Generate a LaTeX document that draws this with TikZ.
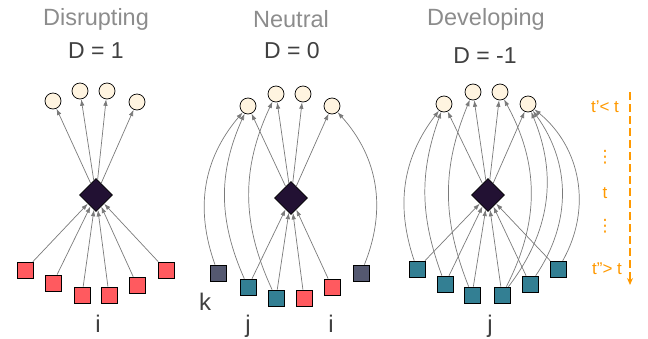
\documentclass[tikz,border=0pt]{standalone}
\usepackage{fontspec}
\setmainfont{Liberation Sans}
\newfontfamily\symfont{DejaVu Sans}
\usetikzlibrary{shapes.geometric, arrows.meta, positioning}

\definecolor{reffill}{HTML}{FFF4E0}
\definecolor{focalfill}{HTML}{221133}
\definecolor{redfill}{HTML}{FF5A5F}
\definecolor{tealfill}{HTML}{337F93}
\definecolor{slatefill}{HTML}{545870}
\definecolor{edgegray}{HTML}{7A7A7A}
\definecolor{titlegray}{HTML}{8C8C8C}
\definecolor{valgray}{HTML}{404040}
\definecolor{timeorange}{HTML}{FF9900}

\begin{document}
\begin{tikzpicture}[
    x=1pt, y=1pt,
    refnode/.style={circle, draw=black, line width=0.7pt, fill=reffill, minimum size=16pt, inner sep=0pt},
    focal/.style={diamond, draw=black, line width=0.7pt, fill=focalfill, minimum width=33pt, minimum height=33pt, inner sep=0pt},
    citbox/.style={rectangle, draw=black, line width=0.7pt, minimum size=16pt, inner sep=0pt},
    redbox/.style={citbox, fill=redfill},
    tealbox/.style={citbox, fill=tealfill},
    slatebox/.style={citbox, fill=slatefill},
    arrow/.style={-{Latex[length=6.5pt, width=4.5pt]}, line width=0.7pt, draw=edgegray},
    title/.style={font=\fontsize{23.5}{25}\selectfont, text=titlegray},
    value/.style={font=\fontsize{23}{25}\selectfont, text=valgray},
    letter/.style={font=\fontsize{24}{26}\selectfont, text=valgray, anchor=base},
    timelabel/.style={font=\fontsize{17}{19}\selectfont, text=timeorange}
]
\useasboundingbox (0,-338) rectangle (648,0);

% Disrupting
\node[title] (titA) at (96,-19) {Disrupting};
\node[value] (valA) at (96,-51) {D = 1};
\node[refnode] (refA1) at (53,-101) {};
\node[refnode] (refA2) at (80,-91) {};
\node[refnode] (refA3) at (107,-91) {};
\node[refnode] (refA4) at (137,-102) {};
\node[focal] (focA) at (96,-195) {};
\node[redbox] (citA1) at (25,-270) {};
\node[redbox] (citA2) at (53,-283) {};
\node[redbox] (citA3) at (82,-295) {};
\node[redbox] (citA4) at (109,-295) {};
\node[redbox] (citA5) at (137,-285) {};
\node[redbox] (citA6) at (166,-270) {};
\node[letter] (labA) at (98,-332) {i};

\draw[arrow] (focA) -- (refA1);
\draw[arrow] (focA) -- (refA2);
\draw[arrow] (focA) -- (refA3);
\draw[arrow] (focA) -- (refA4);
\draw[arrow] (citA1) -- (focA);
\draw[arrow] (citA2) -- (focA);
\draw[arrow] (citA3) -- (focA);
\draw[arrow] (citA4) -- (focA);
\draw[arrow] (citA5) -- (focA);
\draw[arrow] (citA6) -- (focA);

% Neutral
\node[title] (titB) at (291,-19) {Neutral};
\node[value] (valB) at (292,-51) {D = 0};
\node[refnode] (refB1) at (248,-106) {};
\node[refnode] (refB2) at (276,-94) {};
\node[refnode] (refB3) at (303,-94) {};
\node[refnode] (refB4) at (332,-106) {};
\node[focal] (focB) at (291,-198) {};
\node[slatebox] (citB1) at (218,-273) {};
\node[tealbox] (citB2) at (248,-287) {};
\node[tealbox] (citB3) at (276,-298) {};
\node[redbox] (citB4) at (304,-298) {};
\node[redbox] (citB5) at (332,-287) {};
\node[slatebox] (citB6) at (361,-273) {};
\node[letter] (labBk) at (205,-310) {k};
\node[letter] (labBj) at (248,-332) {j};
\node[letter] (labBi) at (331,-332) {i};

\draw[arrow] (focB) -- (refB1);
\draw[arrow] (focB) -- (refB2);
\draw[arrow] (focB) -- (refB3);
\draw[arrow] (focB) -- (refB4);
\draw[arrow] (citB2) -- (focB);
\draw[arrow] (citB3) -- (focB);
\draw[arrow] (citB4) -- (focB);
\draw[arrow] (citB5) -- (focB);
\draw[arrow] (citB1) to[bend left=30] (refB1);
\draw[arrow] (citB2) to[bend left=24] (refB1);
\draw[arrow] (citB3) to[bend left=25] (refB2);
\draw[arrow] (citB6) to[bend right=32] (refB4);

% Developing
\node[title] (titC) at (486,-19) {Developing};
\node[value] (valC) at (485,-56) {D = -1};
\node[refnode] (refC1) at (444,-104) {};
\node[refnode] (refC2) at (473,-92) {};
\node[refnode] (refC3) at (500,-92) {};
\node[refnode] (refC4) at (528,-104) {};
\node[focal] (focC) at (488,-195) {};
\node[tealbox] (citC1) at (417,-269) {};
\node[tealbox] (citC2) at (445,-284) {};
\node[tealbox] (citC3) at (472,-295) {};
\node[tealbox] (citC4) at (502,-295) {};
\node[tealbox] (citC5) at (530,-284) {};
\node[tealbox] (citC6) at (558,-269) {};
\node[letter] (labC) at (490,-332) {j};

\draw[arrow] (focC) -- (refC1);
\draw[arrow] (focC) -- (refC2);
\draw[arrow] (focC) -- (refC3);
\draw[arrow] (focC) -- (refC4);
\draw[arrow] (citC1) -- (focC);
\draw[arrow] (citC2) -- (focC);
\draw[arrow] (citC3) -- (focC);
\draw[arrow] (citC4) -- (focC);
\draw[arrow] (citC5) -- (focC);
\draw[arrow] (citC6) -- (focC);
\draw[arrow] (citC1) to[bend left=28] (refC1);
\draw[arrow] (citC2) to[bend left=20] (refC1);
\draw[arrow] (citC3) to[bend left=22] (refC2);
\draw[arrow] (citC4) to[bend right=28] (refC3);
\draw[arrow] (citC4) to[bend right=30] (refC4);
\draw[arrow] (citC5) to[bend right=35] (refC4);
\draw[arrow] (citC6) to[bend right=40] (refC4);

% time axis
\node[timelabel] (tBefore) at (605,-107) {t’< t};
\node[timelabel, inner sep=0pt] (dotsUp) at (605,-157) {\symfont ⋮};
\node[timelabel] (tNow) at (605,-193) {t};
\node[timelabel, inner sep=0pt] (dotsDown) at (605,-226) {\symfont ⋮};
\node[timelabel] (tAfter) at (607,-269) {t”> t};
\coordinate (timeTop) at (630,-92);
\coordinate (timeEnd) at (630,-285);
\draw[timeorange, line width=1.5pt, dash pattern=on 8pt off 4pt, -{Stealth[length=7pt, width=6pt]}] (timeTop) -- (timeEnd);
\end{tikzpicture}
\end{document}
